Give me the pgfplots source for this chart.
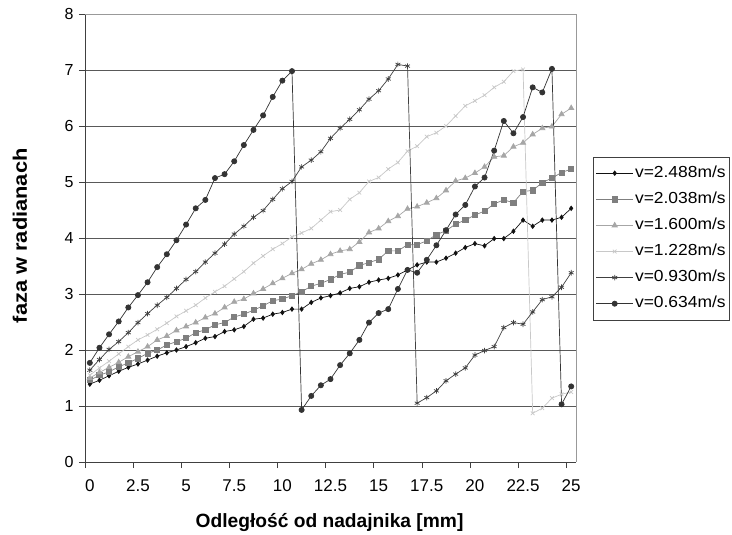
\documentclass[border=0pt]{standalone}
\usepackage{fontspec}
\setmainfont{Liberation Sans}
\newfontfamily\legfont[FakeStretch=1.09]{Liberation Sans}
\newfontfamily\ylabfont[FakeStretch=1.12]{Liberation Sans}
\usepackage{pgfplots}
\pgfplotsset{compat=1.18}
\usetikzlibrary{plotmarks}
\definecolor{cA}{HTML}{111111}
\definecolor{cB}{HTML}{7F7F7F}
\definecolor{cC}{HTML}{A6A6A6}
\definecolor{cD}{HTML}{C8C8C8}
\definecolor{cE}{HTML}{404040}
\definecolor{cF}{HTML}{333333}
\begin{document}
\begin{tikzpicture}
\path[use as bounding box] (-85bp,-73bp) rectangle (647bp,462bp);
\begin{axis}[
  scale only axis, width=491bp, height=448bp,
  xmin=-0.25, xmax=25.25, ymin=0, ymax=8,
  axis lines=left, axis line style={-, draw=black!75, line width=0.8bp},
  tick align=outside, major tick length=6bp,
  tick style={draw=black!75, line width=0.8bp},
  ytick={0,1,...,8},
  xtick={-0.25,2.25,4.75,7.25,9.75,12.25,14.75,17.25,19.75,22.25,24.75},
  xticklabels={},
  extra x ticks={0,2.5,5,7.5,10,12.5,15,17.5,20,22.5,25},
  extra x tick labels={0,2.5,5,7.5,10,12.5,15,17.5,20,22.5,25},
  extra x tick style={major tick length=0pt, tick label style={yshift=-14bp}},
  /pgf/number format/assume math mode=true,
  yticklabel style={font=\fontsize{16bp}{19bp}\selectfont, xshift=-2bp},
  xticklabel style={font=\fontsize{17bp}{20bp}\selectfont},
  ymajorgrids, grid style={draw=black!65, line width=0.8bp},
  xlabel={\bfseries Odległość od nadajnika [mm]},
  ylabel={\ylabfont\bfseries faza w radianach},
  xlabel style={font=\fontsize{19.2bp}{22bp}\selectfont, at={(axis description cs:0.498,-0.135)}, anchor=center},
  ylabel style={font=\fontsize{19.5bp}{22bp}\selectfont, at={(axis description cs:-0.1324,0.505)}, anchor=center},
  legend cell align=left,
  legend image code/.code={\draw[mark repeat=2,mark phase=2,#1] plot coordinates {(0bp,0bp) (18.5bp,0bp) (37bp,0bp)};},
  legend style={at={(axis description cs:1.0346,0.499)}, anchor=west, draw=black!75, line width=0.7bp,
    font=\legfont\fontsize{16bp}{19bp}\selectfont, row sep=7.6bp, inner xsep=2.5bp, inner ysep=7bp,
    nodes={inner sep=1.5bp, text height=12bp, text depth=3.5bp}},
  every axis plot/.append style={line width=0.7bp},
  after end axis/.code={\draw[black!40, line width=0.8bp] (rel axis cs:0,1) -- (rel axis cs:1,1) -- (rel axis cs:1,0);},
]
\addplot[color=cA, mark=diamond*, mark size=2.2bp, mark options={fill=cA}] coordinates {
(0,1.39)(0.5,1.46)(1,1.54)(1.5,1.62)(2,1.69)(2.5,1.75)(3,1.82)(3.5,1.89)(4,1.95)(4.5,2.00)
(5,2.06)(5.5,2.13)(6,2.21)(6.5,2.24)(7,2.33)(7.5,2.36)(8,2.42)(8.5,2.55)(9,2.57)(9.5,2.64)
(10,2.67)(10.5,2.73)(11,2.73)(11.5,2.85)(12,2.93)(12.5,2.97)(13,3.02)(13.5,3.10)(14,3.13)(14.5,3.21)
(15,3.25)(15.5,3.28)(16,3.34)(16.5,3.43)(17,3.52)(17.5,3.57)(18,3.57)(18.5,3.64)(19,3.73)(19.5,3.83)
(20,3.90)(20.5,3.86)(21,3.99)(21.5,3.99)(22,4.12)(22.5,4.32)(23,4.21)(23.5,4.32)(24,4.32)(24.5,4.37)(25,4.53)};
\addlegendentry{v=2.488m/s}
\addplot[color=cB, mark=square*, mark size=2.6bp, mark options={fill=cB}] coordinates {
(0,1.46)(0.5,1.55)(1,1.61)(1.5,1.70)(2,1.77)(2.5,1.85)(3,1.94)(3.5,2.00)(4,2.09)(4.5,2.15)
(5,2.21)(5.5,2.31)(6,2.36)(6.5,2.45)(7,2.49)(7.5,2.59)(8,2.64)(8.5,2.71)(9,2.79)(9.5,2.88)
(10,2.91)(10.5,2.97)(11,3.04)(11.5,3.14)(12,3.19)(12.5,3.26)(13,3.35)(13.5,3.39)(14,3.51)(14.5,3.56)
(15,3.62)(15.5,3.77)(16,3.77)(16.5,3.88)(17,3.88)(17.5,3.95)(18,4.06)(18.5,4.13)(19,4.25)(19.5,4.32)
(20,4.41)(20.5,4.48)(21,4.61)(21.5,4.68)(22,4.63)(22.5,4.83)(23,4.85)(23.5,4.99)(24,5.07)(24.5,5.17)(25,5.23)};
\addlegendentry{v=2.038m/s}
\addplot[color=cC, mark=triangle*, mark size=3bp, mark options={fill=cC}] coordinates {
(0,1.50)(0.5,1.60)(1,1.69)(1.5,1.78)(2,1.88)(2.5,1.97)(3,2.06)(3.5,2.18)(4,2.25)(4.5,2.35)
(5,2.42)(5.5,2.49)(6,2.58)(6.5,2.65)(7,2.76)(7.5,2.86)(8,2.91)(8.5,3.01)(9,3.09)(9.5,3.19)
(10,3.28)(10.5,3.37)(11,3.44)(11.5,3.54)(12,3.61)(12.5,3.71)(13,3.77)(13.5,3.80)(14,3.93)(14.5,4.10)
(15,4.17)(15.5,4.30)(16,4.39)(16.5,4.52)(17,4.56)(17.5,4.63)(18,4.71)(18.5,4.85)(19,5.02)(19.5,5.07)
(20,5.16)(20.5,5.27)(21,5.45)(21.5,5.47)(22,5.63)(22.5,5.70)(23,5.85)(23.5,5.96)(24,5.99)(24.5,6.21)(25,6.32)};
\addlegendentry{v=1.600m/s}
\addplot[color=cD, mark=x, mark size=2.6bp] coordinates {
(0,1.55)(0.5,1.68)(1,1.80)(1.5,1.93)(2,2.06)(2.5,2.18)(3,2.27)(3.5,2.37)(4,2.48)(4.5,2.60)
(5,2.70)(5.5,2.80)(6,2.93)(6.5,3.04)(7,3.14)(7.5,3.27)(8,3.40)(8.5,3.55)(9,3.68)(9.5,3.80)
(10,3.90)(10.5,4.02)(11,4.09)(11.5,4.17)(12,4.32)(12.5,4.47)(13,4.50)(13.5,4.69)(14,4.81)(14.5,5.01)
(15,5.08)(15.5,5.23)(16,5.35)(16.5,5.55)(17,5.64)(17.5,5.81)(18,5.88)(18.5,6.00)(19,6.18)(19.5,6.36)
(20,6.45)(20.5,6.55)(21,6.69)(21.5,6.79)(22,6.98)(22.5,7.01)(23,0.87)(23.5,0.96)(24,1.14)(24.5,1.21)(25,1.25)};
\addlegendentry{v=1.228m/s}
\addplot[color=cE, mark=asterisk, mark size=2.8bp] coordinates {
(0,1.64)(0.5,1.83)(1,2.01)(1.5,2.15)(2,2.31)(2.5,2.49)(3,2.65)(3.5,2.80)(4,2.94)(4.5,3.10)
(5,3.26)(5.5,3.40)(6,3.57)(6.5,3.73)(7,3.89)(7.5,4.07)(8,4.21)(8.5,4.37)(9,4.49)(9.5,4.69)
(10,4.88)(10.5,5.01)(11,5.27)(11.5,5.39)(12,5.54)(12.5,5.78)(13,5.96)(13.5,6.12)(14,6.29)(14.5,6.48)
(15,6.63)(15.5,6.84)(16,7.10)(16.5,7.07)(17,1.05)(17.5,1.15)(18,1.27)(18.5,1.45)(19,1.57)(19.5,1.68)
(20,1.91)(20.5,1.99)(21,2.06)(21.5,2.40)(22,2.49)(22.5,2.46)(23,2.68)(23.5,2.90)(24,2.95)(24.5,3.12)(25,3.38)};
\addlegendentry{v=0.930m/s}
\addplot[color=cF, mark=*, mark size=2.6bp, mark options={fill=cF}] coordinates {
(0,1.77)(0.5,2.04)(1,2.28)(1.5,2.51)(2,2.76)(2.5,2.98)(3,3.21)(3.5,3.48)(4,3.71)(4.5,3.96)
(5,4.24)(5.5,4.53)(6,4.68)(6.5,5.07)(7,5.14)(7.5,5.37)(8,5.66)(8.5,5.93)(9,6.19)(9.5,6.52)
(10,6.81)(10.5,6.98)(11,0.93)(11.5,1.18)(12,1.37)(12.5,1.48)(13,1.73)(13.5,1.94)(14,2.18)(14.5,2.49)
(15,2.66)(15.5,2.73)(16,3.09)(16.5,3.43)(17,3.38)(17.5,3.61)(18,3.87)(18.5,4.14)(19,4.42)(19.5,4.59)
(20,4.92)(20.5,5.08)(21,5.56)(21.5,6.09)(22,5.87)(22.5,6.16)(23,6.69)(23.5,6.60)(24,7.02)(24.5,1.03)(25,1.35)};
\addlegendentry{v=0.634m/s}
\end{axis}
\end{tikzpicture}
\end{document}
